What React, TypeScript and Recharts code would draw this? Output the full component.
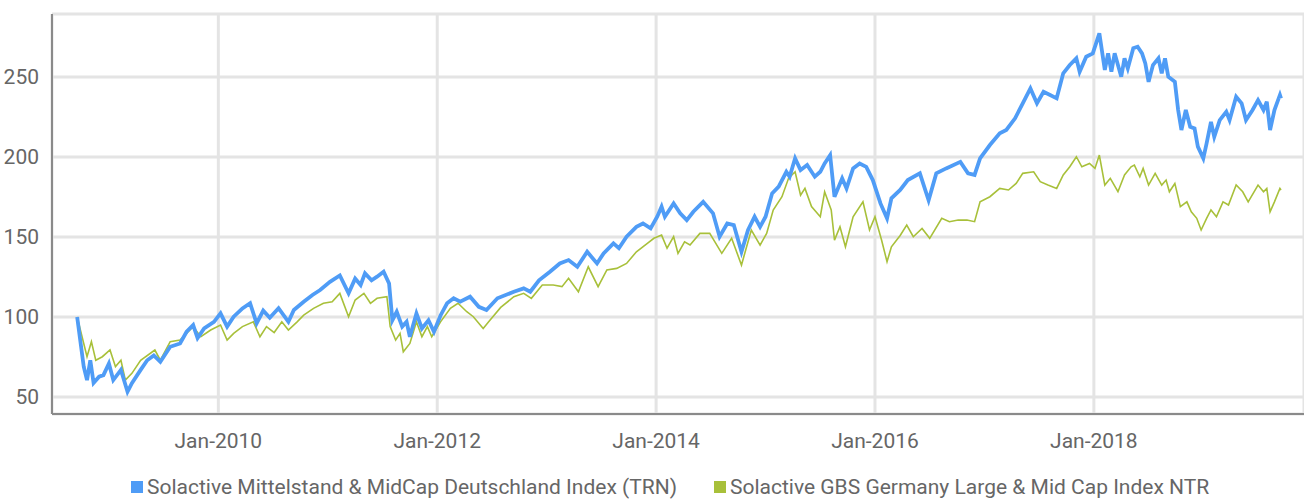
import { LineChart, Line, XAxis, YAxis, CartesianGrid, Legend } from 'recharts'

// decimal year -> index level (start = 100)
const mittelstandDates = [
  2008.71, 2008.77, 2008.80, 2008.83, 2008.86, 2008.91, 2008.95, 2009.00, 2009.04, 2009.11,
  2009.17, 2009.21, 2009.29, 2009.35, 2009.41, 2009.47, 2009.56, 2009.65, 2009.71, 2009.77,
  2009.81, 2009.87, 2009.96, 2010.02, 2010.08, 2010.14, 2010.22, 2010.29, 2010.35, 2010.41,
  2010.47, 2010.55, 2010.64, 2010.69, 2010.78, 2010.86, 2010.93, 2011.02, 2011.11, 2011.19,
  2011.25, 2011.30, 2011.34, 2011.40, 2011.45, 2011.51, 2011.56, 2011.59, 2011.63, 2011.68,
  2011.72, 2011.75, 2011.81, 2011.86, 2011.92, 2011.97, 2012.03, 2012.09, 2012.15, 2012.21,
  2012.30, 2012.38, 2012.45, 2012.55, 2012.70, 2012.79, 2012.85, 2012.93, 2013.03, 2013.12,
  2013.20, 2013.28, 2013.37, 2013.46, 2013.52, 2013.61, 2013.66, 2013.73, 2013.82, 2013.88,
  2013.95, 2014.01, 2014.05, 2014.08, 2014.16, 2014.22, 2014.28, 2014.34, 2014.43, 2014.52,
  2014.58, 2014.65, 2014.71, 2014.78, 2014.84, 2014.90, 2014.95, 2015.00, 2015.06, 2015.12,
  2015.19, 2015.22, 2015.27, 2015.32, 2015.38, 2015.45, 2015.50, 2015.54, 2015.59, 2015.63,
  2015.70, 2015.74, 2015.80, 2015.86, 2015.92, 2015.98, 2016.05, 2016.11, 2016.15, 2016.23,
  2016.30, 2016.41, 2016.49, 2016.56, 2016.65, 2016.78, 2016.85, 2016.91, 2016.96, 2017.05,
  2017.14, 2017.20, 2017.28, 2017.35, 2017.42, 2017.48, 2017.54, 2017.60, 2017.66, 2017.72,
  2017.78, 2017.84, 2017.87, 2017.93, 2017.99, 2018.05, 2018.10, 2018.13, 2018.16, 2018.19,
  2018.25, 2018.28, 2018.31, 2018.36, 2018.40, 2018.44, 2018.47, 2018.50, 2018.54, 2018.59,
  2018.62, 2018.65, 2018.68, 2018.74, 2018.77, 2018.80, 2018.84, 2018.88, 2018.92, 2018.95,
  2019.00, 2019.03, 2019.07, 2019.10, 2019.15, 2019.21, 2019.24, 2019.30, 2019.35, 2019.39,
  2019.45, 2019.50, 2019.55, 2019.58, 2019.61, 2019.65, 2019.70, 2019.71,
]
const mittelstandValues = [
  100, 69, 60.6, 73, 58.8, 62.7, 63.7, 71, 60.6, 67,
  53.3, 58.7, 67, 73, 76, 72, 81.4, 83.5, 90.8, 95,
  86.9, 92.9, 97, 102.3, 94, 100.2, 105.4, 108.6, 96, 104,
  99.6, 105.5, 97, 104.4, 109.6, 113.8, 116.9, 122, 126, 114.8,
  124, 120, 127.3, 123, 125.2, 128.3, 121, 98, 103.3, 94,
  97, 87.7, 102.3, 92.9, 98, 90.8, 101, 108.6, 111.7, 109.6,
  112.7, 106.4, 104.4, 111.7, 115.8, 117.9, 115.8, 123, 128.3, 133.5,
  135.6, 131.4, 140.8, 133.5, 139.8, 146, 143, 150.2, 156.4, 158.5,
  155.4, 162.7, 169, 162.7, 171, 164.8, 160.6, 165.8, 172, 164.8,
  150.2, 158.5, 157.5, 140.8, 154.4, 162.7, 156.4, 162.7, 177.3, 181.5,
  190.8, 187.7, 199.2, 191.9, 195, 187.7, 190.8, 196, 201.2, 175.2,
  186.7, 180.4, 192.9, 196, 193.9, 185.6, 171, 161.7, 174.2, 179.4,
  185.6, 189.8, 173, 189.8, 192.9, 197, 189.8, 188.8, 199.2, 207.5,
  214.8, 216.9, 224.2, 233.6, 242.9, 233.6, 240.8, 238.8, 236.7, 252.3,
  257.5, 261.7, 253.3, 262.7, 264.8, 277.3, 254.4, 264.8, 253.3, 264.8,
  250.2, 261.7, 255.4, 268, 268.9, 264.8, 258.5, 247, 257.5, 261.7,
  252.3, 261.7, 250.2, 247, 229.4, 216.9, 229.4, 218.9, 217.9, 206.5,
  199.2, 208.5, 222, 212.7, 223.1, 228.3, 223.1, 237.7, 233.6, 223.1,
  229.4, 235.6, 229.4, 234.6, 216.9, 229.4, 238.8, 236.7,
]

const gbsDates = [
  2008.71, 2008.77, 2008.80, 2008.84, 2008.88, 2008.94, 2009.01, 2009.06, 2009.11, 2009.15,
  2009.21, 2009.29, 2009.42, 2009.47, 2009.56, 2009.65, 2009.77, 2009.84, 2009.93, 2010.02,
  2010.08, 2010.14, 2010.22, 2010.32, 2010.38, 2010.44, 2010.51, 2010.58, 2010.64, 2010.72,
  2010.78, 2010.87, 2010.96, 2011.04, 2011.11, 2011.19, 2011.25, 2011.33, 2011.39, 2011.45,
  2011.54, 2011.57, 2011.62, 2011.66, 2011.69, 2011.75, 2011.81, 2011.86, 2011.91, 2011.95,
  2012.03, 2012.12, 2012.19, 2012.27, 2012.33, 2012.42, 2012.47, 2012.58, 2012.70, 2012.79,
  2012.86, 2012.96, 2013.06, 2013.14, 2013.20, 2013.29, 2013.38, 2013.47, 2013.55, 2013.64,
  2013.73, 2013.82, 2013.92, 2013.98, 2014.05, 2014.10, 2014.16, 2014.20, 2014.26, 2014.31,
  2014.40, 2014.49, 2014.60, 2014.69, 2014.78, 2014.87, 2014.95, 2015.01, 2015.07, 2015.15,
  2015.21, 2015.27, 2015.32, 2015.36, 2015.42, 2015.50, 2015.54, 2015.60, 2015.63, 2015.68,
  2015.73, 2015.80, 2015.89, 2015.95, 2016.00, 2016.06, 2016.11, 2016.15, 2016.23, 2016.29,
  2016.35, 2016.43, 2016.50, 2016.61, 2016.68, 2016.76, 2016.84, 2016.91, 2016.96, 2017.05,
  2017.14, 2017.22, 2017.29, 2017.35, 2017.45, 2017.51, 2017.58, 2017.66, 2017.72, 2017.78,
  2017.84, 2017.89, 2017.96, 2018.01, 2018.05, 2018.10, 2018.15, 2018.22, 2018.28, 2018.34,
  2018.37, 2018.42, 2018.45, 2018.50, 2018.56, 2018.62, 2018.66, 2018.69, 2018.74, 2018.79,
  2018.85, 2018.89, 2018.94, 2018.98, 2019.03, 2019.07, 2019.12, 2019.18, 2019.23, 2019.30,
  2019.36, 2019.41, 2019.50, 2019.55, 2019.58, 2019.61, 2019.65, 2019.70, 2019.71,
]
const gbsValues = [
  100, 83.5, 75.2, 84.6, 73, 75.2, 79.4, 69, 73, 60.6,
  64.8, 73, 79.4, 73, 84.6, 85.6, 94, 87.7, 91.9, 95,
  85.6, 89.8, 94, 97, 87.7, 94, 90.3, 97, 91.9, 97,
  101.2, 105.4, 108.6, 109.6, 114.8, 100.2, 110.6, 114.8, 108.6, 111.7,
  112.7, 94, 85.6, 89.8, 78.3, 83.5, 97, 87.7, 94, 87.7,
  97, 105.4, 108.6, 103.3, 100.2, 92.9, 97, 106, 112.7, 114.8,
  111.7, 120, 120, 119, 124.2, 115.8, 131.4, 119, 129.4, 130.4,
  133.5, 140.8, 146, 149.2, 151.2, 143, 150.2, 139.8, 147, 145,
  152.3, 152.3, 139.8, 149.2, 132.5, 154.4, 145, 152.3, 166.9, 175.2,
  186.7, 190.8, 176.2, 180.4, 169, 162.7, 178.3, 166.9, 148.1, 156.4,
  143.9, 162.7, 172, 154.4, 162.7, 148.1, 134.6, 143.9, 151, 157.5,
  150.2, 155.4, 149.2, 161.7, 159.6, 160.6, 160.6, 159.6, 172, 175.2,
  180.4, 179.4, 183.5, 189.8, 190.8, 184.6, 182.5, 180.4, 188.8, 193.9,
  200.2, 193.9, 196, 192.9, 201.2, 182.5, 186.7, 178.3, 188.8, 193.9,
  195, 187.7, 192.9, 182.5, 189.8, 182.5, 185.6, 178.3, 183.5, 169,
  172, 165.8, 161.7, 154.4, 161.7, 166.9, 162.7, 172, 170, 182.5,
  178.3, 172, 182.5, 178.3, 180.4, 165.8, 172, 180.4, 179.4,
]

const yearTicks = [2010, 2012, 2014, 2016, 2018]
const valueTicks = [50, 100, 150, 200, 250]

const seriesNames = [
  'Solactive Mittelstand & MidCap Deutschland Index (TRN)',
  'Solactive GBS Germany Large & Mid Cap Index NTR',
]

const BLUE = '#4f9cf6'
const GREEN = '#a8c03a'
const FONT = 'Roboto, sans-serif'

const mittelstandData = mittelstandDates.map((t, i) => ({ t, v: mittelstandValues[i] }))
const gbsData = gbsDates.map((t, i) => ({ t, v: gbsValues[i] }))

function LegendBox() {
  const colors = [BLUE, GREEN]
  return (
    <div style={{ display: 'flex', paddingLeft: 131, fontFamily: FONT, fontSize: 21, lineHeight: '26px', color: '#666', height: 26, alignItems: 'center', whiteSpace: 'nowrap' }}>
      {seriesNames.map((name, i) => (
        <div key={name} style={{ display: 'flex', alignItems: 'center', marginRight: 37 }}>
          <span style={{ width: 12, height: 12, background: colors[i], marginRight: 4, display: 'inline-block' }} />
          <span>{name}</span>
        </div>
      ))}
    </div>
  )
}

export default function App() {
  return (
    <div style={{ position: 'absolute', left: 0, top: 0, width: 1304, height: 500, background: '#fff' }}>
      <LineChart width={1304} height={500} margin={{ top: 14, right: 0, left: 0, bottom: 0 }}>
        <CartesianGrid stroke="#e4e4e4" strokeWidth={3} />
        <XAxis
          type="number"
          dataKey="t"
          domain={[2008.48, 2019.92]}
          ticks={yearTicks}
          tickFormatter={(v) => `Jan-${v}`}
          tickLine={false}
          axisLine={{ stroke: '#8a8a8a', strokeWidth: 2 }}
          tick={{ fill: '#666', fontSize: 21, fontFamily: FONT }}
          tickMargin={13}
          height={60}
          allowDataOverflow
        />
        <YAxis
          type="number"
          domain={[39.4, 289.4]}
          ticks={valueTicks}
          tickLine={false}
          axisLine={{ stroke: '#8a8a8a', strokeWidth: 2 }}
          tick={{ fill: '#666', fontSize: 21, fontFamily: FONT }}
          tickMargin={7}
          width={52}
          allowDataOverflow
        />
        <Legend verticalAlign="bottom" content={() => <LegendBox />} />
        <Line data={gbsData} dataKey="v" type="linear" stroke={GREEN} strokeWidth={1.6} dot={false} isAnimationActive={false} name={seriesNames[1]} />
        <Line data={mittelstandData} dataKey="v" type="linear" stroke={BLUE} strokeWidth={3.8} dot={false} isAnimationActive={false} name={seriesNames[0]} />
      </LineChart>
    </div>
  )
}
